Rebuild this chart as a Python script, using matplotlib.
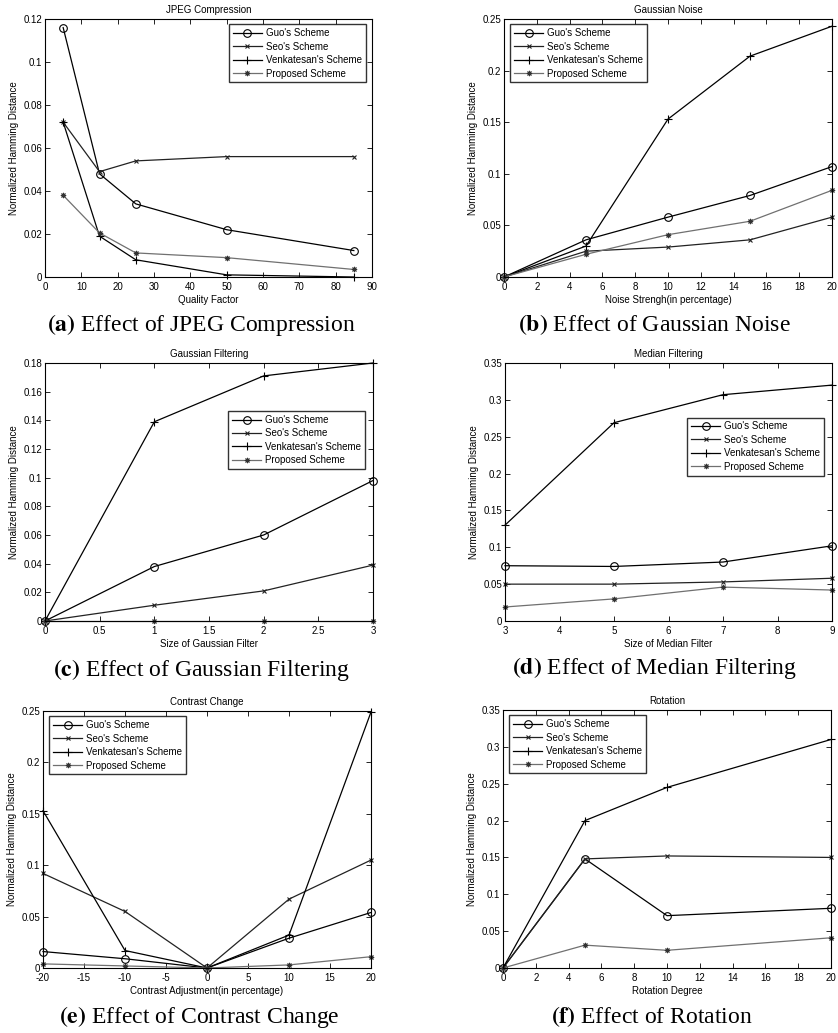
import matplotlib
matplotlib.use("Agg")
import matplotlib.pyplot as plt
from matplotlib.ticker import FuncFormatter

plt.rcParams['font.family'] = ['Liberation Sans', 'DejaVu Sans']

schemes = ["Guo's Scheme", "Seo's Scheme", "Venkatesan's Scheme", "Proposed Scheme"]

# (a) JPEG compression
jpeg_x = [5, 15, 25, 50, 85]
jpeg_guo = [0.116, 0.048, 0.034, 0.022, 0.0123]
jpeg_seo = [0.072, 0.049, 0.054, 0.056, 0.056]
jpeg_venk = [0.072, 0.019, 0.008, 0.001, 0.0]
jpeg_prop = [0.038, 0.0205, 0.0112, 0.009, 0.0035]

# (b) Gaussian noise
noise_x = [0, 5, 10, 15, 20]
noise_guo = [0, 0.036, 0.058, 0.079, 0.107]
noise_seo = [0, 0.025, 0.029, 0.036, 0.058]
noise_venk = [0, 0.030, 0.153, 0.214, 0.243]
noise_prop = [0, 0.022, 0.041, 0.054, 0.084]

# (c) Gaussian filtering
gfilt_x = [0, 1, 2, 3]
gfilt_guo = [0, 0.038, 0.060, 0.098]
gfilt_seo = [0, 0.011, 0.021, 0.039]
gfilt_venk = [0, 0.139, 0.171, 0.180]
gfilt_prop = [0, 0, 0, 0]

# (d) Median filtering
med_x = [3, 5, 7, 9]
med_guo = [0.075, 0.074, 0.080, 0.102]
med_seo = [0.050, 0.050, 0.053, 0.058]
med_venk = [0.130, 0.269, 0.307, 0.320]
med_prop = [0.019, 0.030, 0.046, 0.042]

# (e) Contrast change
con_x = [-20, -10, 0, 10, 20]
con_guo = [0.016, 0.009, 0, 0.029, 0.054]
con_seo = [0.092, 0.055, 0, 0.067, 0.105]
con_venk = [0.153, 0.017, 0, 0.032, 0.249]
con_prop = [0.004, 0.002, 0, 0.003, 0.011]

# (f) Rotation
rot_x = [0, 5, 10, 20]
rot_guo = [0, 0.148, 0.071, 0.081]
rot_seo = [0, 0.148, 0.152, 0.150]
rot_venk = [0, 0.200, 0.245, 0.310]
rot_prop = [0, 0.031, 0.024, 0.041]

W, H = 838, 1033
fig = plt.figure(figsize=(W / 100, H / 100), dpi=100)

styles = [
    dict(color='black', marker='o', markersize=5.5, markerfacecolor='none', markeredgewidth=0.8),
    dict(color='#222222', marker='x', markersize=3, markeredgewidth=0.8),
    dict(color='black', marker='+', markersize=6, markeredgewidth=0.8),
    dict(color='#707070', marker=(8, 2, 0), markersize=3.8, markeredgewidth=0.7,
         markeredgecolor='#333333'),
]


def gfmt(v, pos):
    return '%g' % round(v, 6)


def panel(box, x, series, title, xlabel, xlim, ylim, xticks, yticks, legend_loc, caption_xy, letter, caption):
    l, r, t, b = box
    ax = fig.add_axes([l / W, 1 - b / H, (r - l) / W, (b - t) / H])
    for ys, st, name in zip(series, styles, schemes):
        ax.plot(x, ys, linewidth=0.9, label=name, clip_on=False, **st)
    ax.set_xlim(xlim)
    ax.set_ylim(ylim)
    ax.set_xticks(xticks)
    ax.set_yticks(yticks)
    ax.xaxis.set_major_formatter(FuncFormatter(gfmt))
    ax.yaxis.set_major_formatter(FuncFormatter(gfmt))
    ax.tick_params(direction='in', top=True, right=True, labelsize=7, length=3.5, width=0.6, pad=2)
    ax.tick_params(axis='x', pad=3.5)
    for s in ax.spines.values():
        s.set_linewidth(0.8)
    ax.set_title(title, fontsize=7, pad=4)
    ax.set_xlabel(xlabel, fontsize=7, labelpad=2)
    ax.set_ylabel('Normalized Hamming Distance', fontsize=7, labelpad=3)
    loc, anchor = legend_loc
    leg = ax.legend(loc=loc, bbox_to_anchor=anchor, fontsize=7, frameon=True, fancybox=False,
                    edgecolor='black', handlelength=3.0, labelspacing=0.35, borderpad=0.4,
                    handletextpad=0.4, borderaxespad=0.3)
    leg.get_frame().set_linewidth(1.0)
    cx, cy = caption_xy
    fig.text(cx / W, 1 - cy / H, r'$\mathbf{(' + letter + r')}$ ' + caption, ha='center', va='center',
             fontsize=17, family='Liberation Serif', math_fontfamily='stix')
    return ax


panel((45, 372, 19, 277), jpeg_x, [jpeg_guo, jpeg_seo, jpeg_venk, jpeg_prop], 'JPEG Compression',
      'Quality Factor', (0, 90), (0, 0.12), range(0, 91, 10), [0, 0.02, 0.04, 0.06, 0.08, 0.1, 0.12],
      ('upper right', (0.99, 0.99)), (201, 325), 'a', 'Effect of JPEG Compression')

panel((504, 832, 19, 277), noise_x, [noise_guo, noise_seo, noise_venk, noise_prop], 'Gaussian Noise',
      'Noise Strengh(in percentage)', (0, 20), (0, 0.25), range(0, 21, 2), [0, 0.05, 0.1, 0.15, 0.2, 0.25],
      ('upper left', (0.01, 0.99)), (654, 325), 'b', 'Effect of Gaussian Noise')

panel((45, 373, 363, 621), gfilt_x, [gfilt_guo, gfilt_seo, gfilt_venk, gfilt_prop], 'Gaussian Filtering',
      'Size of Gaussian Filter', (0, 3), (0, 0.18), [0, 0.5, 1, 1.5, 2, 2.5, 3],
      [0, 0.02, 0.04, 0.06, 0.08, 0.1, 0.12, 0.14, 0.16, 0.18],
      ('upper right', (0.985, 0.825)), (201, 670), 'c', 'Effect of Gaussian Filtering')

panel((505, 832, 363, 621), med_x, [med_guo, med_seo, med_venk, med_prop], 'Median Filtering',
      'Size of Median Filter', (3, 9), (0, 0.35), range(3, 10), [0, 0.05, 0.1, 0.15, 0.2, 0.25, 0.3, 0.35],
      ('upper right', (0.985, 0.80)), (654, 668), 'd', 'Effect of Median Filtering')

panel((43, 371, 711, 968), con_x, [con_guo, con_seo, con_venk, con_prop], 'Contrast Change',
      'Contrast Adjustment(in percentage)', (-20, 20), (0, 0.25), range(-20, 21, 5),
      [0, 0.05, 0.1, 0.15, 0.2, 0.25],
      ('upper left', (0.01, 0.99)), (199, 1017), 'e', 'Effect of Contrast Change')

panel((503, 831, 710, 968), rot_x, [rot_guo, rot_seo, rot_venk, rot_prop], 'Rotation',
      'Rotation Degree', (0, 20), (0, 0.35), range(0, 21, 2), [0, 0.05, 0.1, 0.15, 0.2, 0.25, 0.3, 0.35],
      ('upper left', (0.01, 0.99)), (652, 1017), 'f', 'Effect of Rotation')

fig.savefig('out.png', dpi=100)
